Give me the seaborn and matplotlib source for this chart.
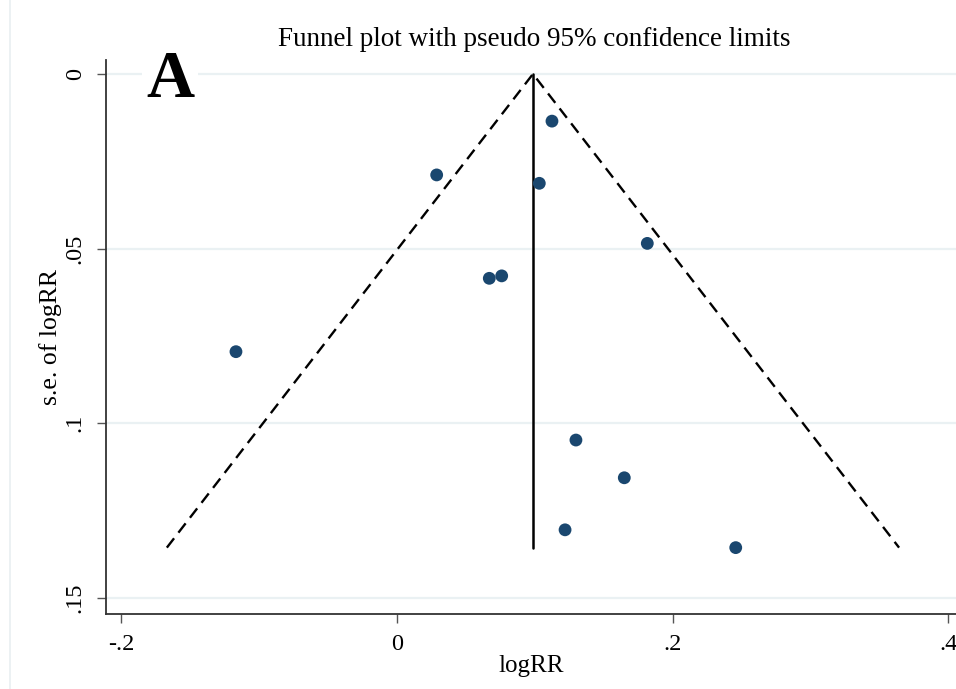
import numpy as np
import pandas as pd
import matplotlib
matplotlib.use("Agg")
import matplotlib.pyplot as plt
import seaborn as sns

# ---- data ----
log_rr = [0.1125, 0.0288, 0.1033, 0.1817, 0.0760, 0.0670, -0.1169, 0.1299, 0.1650, 0.1220, 0.2459]
se_log_rr = [0.0135, 0.0289, 0.0313, 0.0485, 0.0578, 0.0585, 0.0795, 0.1048, 0.1156, 0.1305, 0.1356]
pooled = 0.0987
x_ticks = [-0.2, 0.0, 0.2, 0.4]
x_ticklabels = ["-.2", "0", ".2", ".4"]
y_ticks = [0.0, 0.05, 0.10, 0.15]
y_ticklabels = ["0", ".05", ".1", ".15"]
title = "Funnel plot with pseudo 95% confidence limits"
panel = "A"

df = pd.DataFrame({"logRR": log_rr, "se": se_log_rr})

sns.set_theme(style="white")
plt.rcParams["font.family"] = ["Liberation Serif", "DejaVu Serif"]
plt.rcParams["text.color"] = "black"
plt.rcParams["axes.labelcolor"] = "black"

W, H = 956, 689
fig = plt.figure(figsize=(W / 100, H / 100), dpi=100)
left, right, top, bottom = 106, 956, 60, 614
ax = fig.add_axes([left / W, 1 - bottom / H, (right - left) / W, (bottom - top) / H])

# faint outer border line of the graph region
fig.add_artist(plt.Line2D([10 / W, 10 / W], [0, 1], transform=fig.transFigure,
                          color="#e9eff1", lw=1.2))

# gridlines
for yt in y_ticks:
    ax.axhline(yt, color="#eaf1f3", lw=1.6, zorder=0)

# funnel lines
max_se = max(se_log_rr)
z = 1.96
ax.plot([pooled - z * max_se, pooled, pooled + z * max_se], [max_se, 0, max_se],
        color="black", lw=1.7, ls=(0, (5, 3.0)), zorder=2)
ax.plot([pooled, pooled], [0, max_se], color="black", lw=1.8, zorder=2)

sns.scatterplot(data=df, x="logRR", y="se", ax=ax, s=85, color="#1a476f",
                edgecolor="none", zorder=3, legend=False)

ax.set_xlim(-0.21125, 0.4058)
ax.set_ylim(0.1546, -0.0040)

ax.set_xticks(x_ticks)
ax.set_xticklabels(x_ticklabels)
ax.set_yticks(y_ticks)
ax.set_yticklabels(y_ticklabels, rotation=90, va="center")

for s in ["top", "right"]:
    ax.spines[s].set_visible(False)
for s in ["left", "bottom"]:
    ax.spines[s].set_color("#333333")
    ax.spines[s].set_linewidth(1.3)

ax.tick_params(axis="both", which="major", direction="out", length=6.5, width=1.0,
               color="#555555", labelsize=17.5, labelcolor="black")
ax.tick_params(axis="y", pad=8)
ax.tick_params(axis="x", pad=8)
ax.tick_params(left=True, bottom=True)

ax.set_xlabel("logRR", fontsize=18, labelpad=0)
ax.set_ylabel("s.e. of logRR", fontsize=18.5, labelpad=2)

fig.text((left + right) / 2 / W + 3 / W, 1 - 40 / H, title, ha="center", va="center",
         fontsize=19.5)

ax.text(-0.1648, 0.0066, panel, ha="center", va="baseline", fontsize=48,
        fontweight="bold", zorder=4,
        bbox=dict(facecolor="white", edgecolor="none", pad=3))

fig.savefig("out.png", dpi=100)
